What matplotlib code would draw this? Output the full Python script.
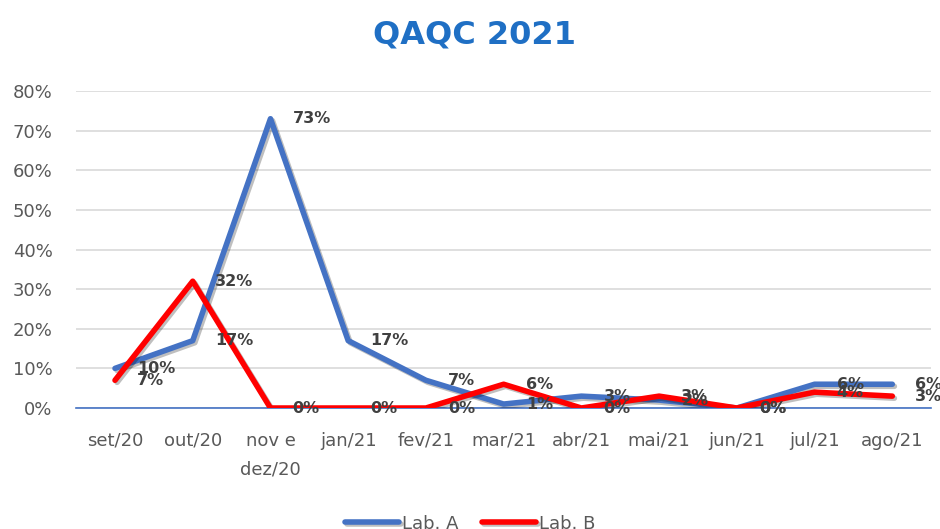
import matplotlib
matplotlib.use("Agg")
import matplotlib.pyplot as plt
import matplotlib.patheffects as pe
import numpy as np

plt.rcParams['font.family'] = ['DejaVu Sans']

# Data
meses = ["set/20", "out/20", "nov e\ndez/20", "jan/21", "fev/21", "mar/21",
         "abr/21", "mai/21", "jun/21", "jul/21", "ago/21"]
lab_a = [0.10, 0.17, 0.73, 0.17, 0.07, 0.01, 0.03, 0.02, 0.00, 0.06, 0.06]
lab_b = [0.07, 0.32, 0.00, 0.00, 0.00, 0.06, 0.00, 0.03, 0.00, 0.04, 0.03]
yticks = [0, 0.1, 0.2, 0.3, 0.4, 0.5, 0.6, 0.7, 0.8]

azul = "#4472C4"
vermelho = "#FF0000"
cinza = "#595959"

fig = plt.figure(figsize=(9.4, 5.29), dpi=100)
ax = fig.add_axes([0.081, 0.2287, 0.9096, 0.5993])

x = np.arange(len(meses))
sombra = [pe.SimpleLineShadow(offset=(1.5, -1.5), alpha=0.25), pe.Normal()]
ax.plot(x, lab_a, color=azul, lw=4, label="Lab. A", solid_capstyle="round",
        path_effects=sombra, zorder=3)
ax.plot(x, lab_b, color=vermelho, lw=4, label="Lab. B", solid_capstyle="round",
        path_effects=sombra, zorder=4)

#Data labels to the right of each point
for serie in (lab_a, lab_b):
    for xi, yi in zip(x, serie):
        ax.annotate("{:.0%}".format(yi), (xi, yi), xytext=(16, 0),
                    textcoords="offset points", va="center", ha="left",
                    fontsize=11.5, fontweight="bold", color="#404040", zorder=5)

ax.set_xlim(-0.5, len(meses) - 0.5)
ax.set_ylim(0, 0.8)
ax.set_yticks(yticks)
ax.set_yticklabels(["{:.0%}".format(v) for v in yticks])
ax.set_xticks(x)
ax.set_xticklabels(meses, linespacing=1.75, va="top")
ax.tick_params(axis="both", length=0, labelsize=13, labelcolor=cinza)
ax.tick_params(axis="y", pad=17)
ax.tick_params(axis="x", pad=17)

ax.grid(axis="y", color="#D9D9D9", lw=1.2)
ax.set_axisbelow(True)
for s in ["top", "right", "left"]:
    ax.spines[s].set_visible(False)
ax.spines["bottom"].set_color(azul)
ax.spines["bottom"].set_linewidth(1.2)

fig.text(0.505, 0.934, "QAQC 2021", ha="center", va="center",
         fontsize=23, fontweight="bold", color="#1F6FC4")

fig.legend(loc="center", bbox_to_anchor=(0.5, 0.01), ncol=2, frameon=False,
           fontsize=13, handlelength=3.0, handletextpad=0.15, columnspacing=1.3,
           labelcolor=cinza)

fig.savefig("out.png", dpi=100)
